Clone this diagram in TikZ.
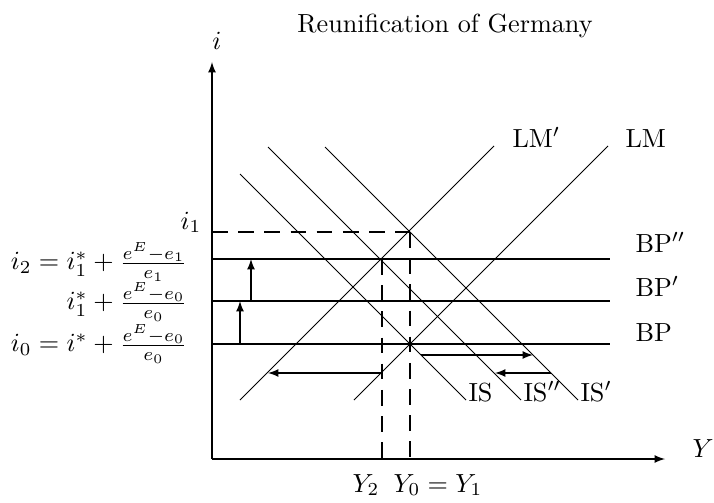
\documentclass[tikz,border=0pt]{standalone}
\begin{document}
\begin{tikzpicture}[
        x=0.382pt, y=0.382pt,
        axis/.style={draw, ->, >=latex},
        curve/.style={draw},
        guide/.style={draw, dash pattern=on 6pt off 4pt},
        line/.style={draw, ->, >=latex},
        lbl/.style={anchor=base west, inner sep=0pt},
        eqn/.style={anchor=east, inner sep=0pt}
    ]
        \useasboundingbox (-212,-43) rectangle (502,459);

        \coordinate (o) at (0,0);
        \coordinate (itop) at (0,397);
        \coordinate (yend) at (453,0);
        \node[anchor=base] (title) at (233,426) {Reunification of Germany};
        \node[anchor=base, inner sep=0pt] (ilab) at (5,409) {$i$};
        \node[anchor=base, inner sep=0pt] (ylab) at (491,2) {$Y$};

        \coordinate (bp0a) at (0,115);   \coordinate (bp0b) at (398,115);
        \coordinate (bp1a) at (0,158);   \coordinate (bp1b) at (398,158);
        \coordinate (bp2a) at (0,200);   \coordinate (bp2b) at (398,200);
        \coordinate (lma) at (142,59);   \coordinate (lmb) at (396,313);
        \coordinate (lm1a) at (28,59);   \coordinate (lm1b) at (282,313);
        \coordinate (isa) at (28,285);   \coordinate (isb) at (254,59);
        \coordinate (is1a) at (113,312); \coordinate (is1b) at (366,59);
        \coordinate (is2a) at (56,312);  \coordinate (is2b) at (309,59);
        \coordinate (e0) at (198,115);
        \coordinate (e1) at (198,227);
        \coordinate (e2) at (170,200);
        \coordinate (i1) at (0,227);

        \draw[axis] (o) -- (itop);
        \draw[axis] (o) -- (yend);

        \draw[curve] (bp0a) -- (bp0b);
        \draw[curve] (bp1a) -- (bp1b);
        \draw[curve] (bp2a) -- (bp2b);
        \draw[curve] (lma) -- (lmb);
        \draw[curve] (lm1a) -- (lm1b);
        \draw[curve] (isa) -- (isb);
        \draw[curve] (is1a) -- (is1b);
        \draw[curve] (is2a) -- (is2b);

        \node[lbl] (bp0) at (423,118) {BP};
        \node[lbl] (bp1) at (423,163) {BP$'$};
        \node[lbl] (bp2) at (423,207) {BP$''$};
        \node[lbl] (lm) at (413,312) {LM};
        \node[lbl] (lm1) at (300,312) {LM$'$};
        \node[lbl] (is) at (256,58) {IS};
        \node[lbl] (is2) at (311,58) {IS$''$};
        \node[lbl] (is1) at (368,58) {IS$'$};

        \draw[guide] (i1) -- (e1);
        \draw[guide] (bp0a) -- (e0);
        \draw[guide] (e1) -- (e1 |- o);
        \draw[guide] (e2) -- (e2 |- o);

        \draw[line] (28,115) -- (28,158);
        \draw[line] (39,158) -- (39,200);
        \draw[line] (209,104) -- (321,104);
        \draw[line] (339,86) -- (283,86);
        \draw[line] (169,86) -- (56,86);

        \node[anchor=base east, inner sep=0pt] (i1lab) at (-10,230) {$i_1$};
        \node[eqn] (i2lab) at (-24,197) {$i_2 = i_1^* + \frac{e^E-e_1}{e_1}$};
        \node[eqn] (i1slab) at (-24,157) {$i_1^* + \frac{e^E-e_0}{e_0}$};
        \node[eqn] (i0lab) at (-24,115) {$i_0 = i^* + \frac{e^E-e_0}{e_0}$};

        \node[anchor=base east, inner sep=0pt] (y2lab) at (168,-33) {$Y_2$};
        \node[anchor=base west, inner sep=0pt] (y0lab) at (181,-33) {$Y_0 = Y_1$};
    \end{tikzpicture}
\end{document}
